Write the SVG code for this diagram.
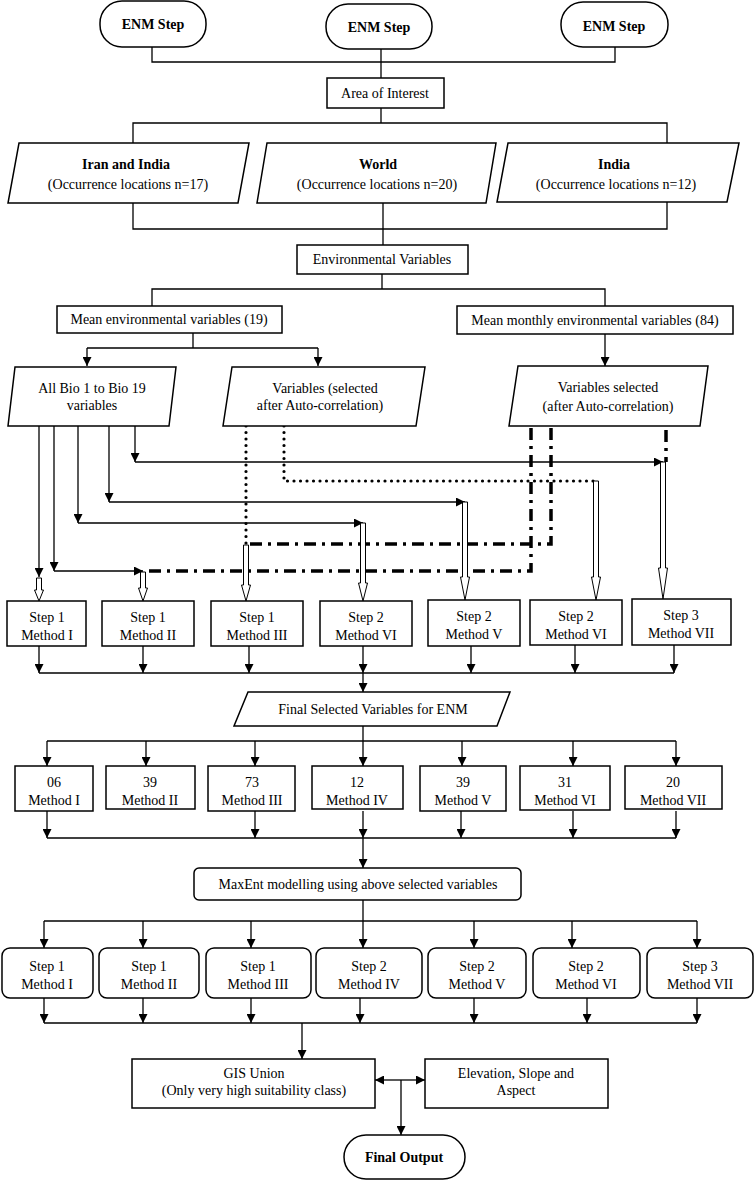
<svg xmlns="http://www.w3.org/2000/svg" width="755" height="1180" viewBox="0 0 755 1180">
<style>
text{font-family:"Liberation Serif","Times New Roman",serif;font-size:14px;fill:#000;text-anchor:middle}
.b{font-weight:bold}
.box{fill:#fff;stroke:#000;stroke-width:1.5}
.ln{fill:none;stroke:#000;stroke-width:1.3}
.ar{fill:none;stroke:#000;stroke-width:1.3;marker-end:url(#ah)}
.hol{fill:#fff;stroke:#000;stroke-width:1}
.dot{fill:none;stroke:#000;stroke-width:3.2;stroke-linecap:round;stroke-dasharray:0 6.5}
.dd{fill:none;stroke:#000;stroke-width:3.5;stroke-dasharray:12 6 3 6}
</style>
<defs>
<marker id="ah" viewBox="0 0 10 10" refX="10" refY="5" markerWidth="9" markerHeight="9" markerUnits="userSpaceOnUse" orient="auto">
<path d="M0,0 L10,5 L0,10 z" fill="#000"/>
</marker>
</defs>
<rect width="755" height="1180" fill="#fff"/>

<g id="connectors">
<path class="ln" d="M152,47 V62 H615 V47"/>
<path class="ln" d="M381,49 V78"/>
<path class="ln" d="M381,108 V123"/>
<path class="ln" d="M133,143 V123 H667 V143"/>
<path class="ln" d="M133,203 V229 H667 V202"/>
<path class="ln" d="M383,203 V245"/>
<path class="ln" d="M382,274 V289"/>
<path class="ln" d="M152,306 V289 H605 V306"/>
<path class="ln" d="M193,333 V348"/>
<path class="ln" d="M87,348 H318"/>
<path class="ar" d="M87,348 V366"/>
<path class="ar" d="M318,348 V366"/>
<path class="ar" d="M605,334 V366"/>

<path class="ar" d="M39,426 V577"/>
<path class="ar" d="M54,426 V571"/>
<path class="ar" d="M54,571 H143"/>
<path class="ar" d="M78,426 V523"/>
<path class="ar" d="M78,523 H363"/>
<path class="ar" d="M109,426 V502"/>
<path class="ar" d="M109,502 H465"/>
<path class="ar" d="M135,426 V462"/>
<path class="ar" d="M135,462 H663"/>

<path class="dot" d="M246,426 V545"/>
<path class="dot" d="M284,426 V481 H596"/>

<path class="dd" d="M531,428 V571 H145"/>
<path class="dd" d="M551,428 V544 H248"/>
<path class="dd" d="M666,430 V462"/>

<polygon class="hol" points="36.5,578 41.5,578 41.5,590 43.5,590 39,601 34.5,590 36.5,590"/>
<polygon class="hol" points="140.5,572 145.5,572 145.5,588 147.5,588 143,601 138.5,588 140.5,588"/>
<polygon class="hol" points="243.5,545 248.5,545 248.5,585 250.5,585 246,601 241.5,585 243.5,585"/>
<polygon class="hol" points="360.5,523 365.5,523 365.5,583 367.5,583 363,601 358.5,583 360.5,583"/>
<polygon class="hol" points="462.5,502 467.5,502 467.5,577 469.5,577 465,600 460.5,577 462.5,577"/>
<polygon class="hol" points="593.5,481 598.5,481 598.5,577 600.5,577 596,600 591.5,577 593.5,577"/>
<polygon class="hol" points="660.5,462 665.5,462 665.5,568 667.5,568 663,599 658.5,568 660.5,568"/>

<path class="ar" d="M39,646 V673"/>
<path class="ar" d="M143,646 V673"/>
<path class="ar" d="M249,646 V673"/>
<path class="ar" d="M363,646 V673"/>
<path class="ar" d="M471,646 V673"/>
<path class="ar" d="M575,645 V673"/>
<path class="ar" d="M674,645 V673"/>
<path class="ln" d="M39,673 H674"/>
<path class="ar" d="M363,673 V692"/>

<path class="ln" d="M363,726 V741"/>
<path class="ln" d="M47,741 H676"/>
<path class="ar" d="M47,741 V766"/>
<path class="ar" d="M146,741 V766"/>
<path class="ar" d="M255,741 V766"/>
<path class="ar" d="M363,741 V766"/>
<path class="ar" d="M462,741 V766"/>
<path class="ar" d="M573,741 V766"/>
<path class="ar" d="M676,741 V766"/>

<path class="ar" d="M47,811 V838"/>
<path class="ar" d="M255,811 V838"/>
<path class="ar" d="M363,811 V838"/>
<path class="ar" d="M461,811 V838"/>
<path class="ar" d="M573,811 V838"/>
<path class="ar" d="M676,811 V838"/>
<path class="ln" d="M47,838 H676"/>
<path class="ar" d="M363,838 V868"/>

<path class="ln" d="M363,900 V921"/>
<path class="ln" d="M44,921 H697"/>
<path class="ar" d="M44,921 V948"/>
<path class="ar" d="M143,921 V948"/>
<path class="ar" d="M251,921 V948"/>
<path class="ar" d="M363,921 V948"/>
<path class="ar" d="M474,921 V948"/>
<path class="ar" d="M572,921 V948"/>
<path class="ar" d="M697,921 V948"/>

<path class="ar" d="M44,998 V1023"/>
<path class="ar" d="M143,998 V1023"/>
<path class="ar" d="M251,998 V1023"/>
<path class="ar" d="M360,998 V1023"/>
<path class="ar" d="M474,998 V1023"/>
<path class="ar" d="M587,998 V1023"/>
<path class="ar" d="M697,998 V1023"/>
<path class="ln" d="M44,1023 H697"/>
<path class="ar" d="M302,1023 V1059"/>

<path class="ar" d="M401,1080 H375"/>
<path class="ar" d="M401,1080 H425"/>
<path class="ar" d="M401,1080 V1135"/>
</g>

<g id="enm-left"><rect class="box" x="100" y="1" width="106" height="46" rx="22"/><text class="b" x="153" y="29">ENM Step</text></g>
<g id="enm-mid"><rect class="box" x="326" y="4" width="106" height="45" rx="22"/><text class="b" x="379" y="32">ENM Step</text></g>
<g id="enm-right"><rect class="box" x="561" y="2" width="107" height="45" rx="22"/><text class="b" x="614" y="31">ENM Step</text></g>

<g id="area"><rect class="box" x="327" y="78" width="117" height="30"/><text x="385" y="98">Area of Interest</text></g>

<g id="iran-india"><polygon class="box" points="19,143 249,143 238,203 8,203"/><text class="b" x="126" y="169">Iran and India</text><text x="128" y="189">(Occurrence locations n=17)</text></g>
<g id="world"><polygon class="box" points="267,143 496,143 486,203 257,203"/><text class="b" x="378" y="169">World</text><text x="377" y="189">(Occurrence locations n=20)</text></g>
<g id="india"><polygon class="box" points="508,143 739,143 727,202 497,202"/><text class="b" x="614" y="169">India</text><text x="616" y="189">(Occurrence locations n=12)</text></g>

<g id="env-vars"><rect class="box" x="297" y="245" width="171" height="29"/><text x="382" y="264">Environmental Variables</text></g>
<g id="mean-env"><rect class="box" x="57" y="306" width="225" height="27"/><text x="169" y="324">Mean environmental variables (19)</text></g>
<g id="mean-monthly"><rect class="box" x="457" y="306" width="276" height="28"/><text x="595" y="325">Mean monthly environmental variables (84)</text></g>

<g id="all-bio"><polygon class="box" points="15,367 176,367 169,426 8,426"/><text x="92" y="393">All Bio 1 to Bio 19</text><text x="92" y="410">variables</text></g>
<g id="vars-selected-1"><polygon class="box" points="232,367 425,367 416,426 223,426"/><text x="325" y="393">Variables (selected</text><text x="320" y="410">after Auto-correlation)</text></g>
<g id="vars-selected-2"><polygon class="box" points="518,366 708,366 700,426 509,426"/><text x="608" y="392">Variables selected</text><text x="608" y="411">(after Auto-correlation)</text></g>

<g id="r1-1"><rect class="box" x="7" y="601" width="79" height="45"/><text x="47" y="622">Step 1</text><text x="47" y="640">Method I</text></g>
<g id="r1-2"><rect class="box" x="102" y="601" width="92" height="45"/><text x="148" y="622">Step 1</text><text x="148" y="640">Method II</text></g>
<g id="r1-3"><rect class="box" x="211" y="601" width="92" height="45"/><text x="257" y="622">Step 1</text><text x="257" y="640">Method III</text></g>
<g id="r1-4"><rect class="box" x="320" y="601" width="92" height="45"/><text x="366" y="622">Step 2</text><text x="366" y="640">Method VI</text></g>
<g id="r1-5"><rect class="box" x="428" y="600" width="92" height="46"/><text x="474" y="621">Step 2</text><text x="474" y="639">Method V</text></g>
<g id="r1-6"><rect class="box" x="530" y="600" width="92" height="45"/><text x="576" y="621">Step 2</text><text x="576" y="639">Method VI</text></g>
<g id="r1-7"><rect class="box" x="632" y="599" width="99" height="46"/><text x="681" y="620">Step 3</text><text x="681" y="638">Method VII</text></g>

<g id="final-selected"><polygon class="box" points="248,692 510,692 497,726 234,726"/><text x="373" y="714">Final Selected Variables for ENM</text></g>

<g id="r2-1"><rect class="box" x="15" y="766" width="78" height="45"/><text x="54" y="787">06</text><text x="54" y="805">Method I</text></g>
<g id="r2-2"><rect class="box" x="106" y="766" width="89" height="43"/><text x="150" y="787">39</text><text x="150" y="805">Method II</text></g>
<g id="r2-3"><rect class="box" x="208" y="766" width="87" height="45"/><text x="252" y="787">73</text><text x="252" y="805">Method III</text></g>
<g id="r2-4"><rect class="box" x="312" y="766" width="91" height="43"/><text x="357" y="787">12</text><text x="357" y="805">Method IV</text></g>
<g id="r2-5"><rect class="box" x="420" y="766" width="86" height="45"/><text x="463" y="787">39</text><text x="463" y="805">Method V</text></g>
<g id="r2-6"><rect class="box" x="520" y="766" width="90" height="44"/><text x="565" y="787">31</text><text x="565" y="805">Method VI</text></g>
<g id="r2-7"><rect class="box" x="625" y="766" width="97" height="43"/><text x="673" y="787">20</text><text x="673" y="805">Method VII</text></g>

<g id="maxent"><rect class="box" x="194" y="868" width="327" height="32" rx="5"/><text x="358" y="889">MaxEnt modelling using above selected variables</text></g>

<g id="r3-1"><rect class="box" x="2" y="948" width="91" height="50" rx="8"/><text x="47" y="971">Step 1</text><text x="47" y="989">Method I</text></g>
<g id="r3-2"><rect class="box" x="99" y="948" width="100" height="50" rx="8"/><text x="149" y="971">Step 1</text><text x="149" y="989">Method II</text></g>
<g id="r3-3"><rect class="box" x="206" y="948" width="105" height="50" rx="8"/><text x="258" y="971">Step 1</text><text x="258" y="989">Method III</text></g>
<g id="r3-4"><rect class="box" x="316" y="948" width="106" height="50" rx="8"/><text x="369" y="971">Step 2</text><text x="369" y="989">Method IV</text></g>
<g id="r3-5"><rect class="box" x="428" y="948" width="98" height="50" rx="8"/><text x="477" y="971">Step 2</text><text x="477" y="989">Method V</text></g>
<g id="r3-6"><rect class="box" x="533" y="948" width="107" height="50" rx="8"/><text x="586" y="971">Step 2</text><text x="586" y="989">Method VI</text></g>
<g id="r3-7"><rect class="box" x="647" y="948" width="106" height="50" rx="8"/><text x="700" y="971">Step 3</text><text x="700" y="989">Method VII</text></g>

<g id="gis-union"><rect class="box" x="132" y="1059" width="243" height="49"/><text x="254" y="1078">GIS Union</text><text x="254" y="1095">(Only very high suitability class)</text></g>
<g id="elevation"><rect class="box" x="425" y="1059" width="183" height="49"/><text x="516" y="1078">Elevation, Slope and</text><text x="516" y="1095">Aspect</text></g>
<g id="final-output"><rect class="box" x="344" y="1135" width="121" height="44" rx="22"/><text class="b" x="404" y="1162">Final Output</text></g>
</svg>
